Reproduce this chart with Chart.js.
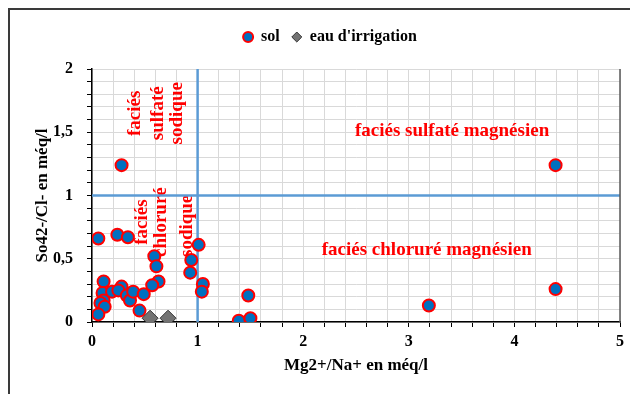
<!DOCTYPE html>
<html><head><meta charset="utf-8">
<script src="https://cdn.jsdelivr.net/npm/chart.js@4/dist/chart.umd.min.js"></script>
<style>
html,body{margin:0;padding:0;background:#fff;}
#wrap{position:relative;width:630px;height:394px;overflow:hidden;}
#frame{position:absolute;left:8px;top:8px;width:640px;height:400px;border-left:2px solid #3a3a3a;border-top:2px solid #3a3a3a;}
canvas{position:absolute;left:0;top:0;}
</style></head>
<body><div id="wrap"><div id="frame"></div><canvas id="c" width="630" height="394"></canvas></div>
<script>
// --- data ---
const solX = [0.06,0.28,0.24,0.34,0.59,0.61,0.63,0.57,1.01,0.94,0.93,1.05,1.04,0.11,0.10,0.11,0.08,0.12,0.06,0.19,0.28,0.25,0.33,0.36,0.39,0.49,0.45,4.39,4.39,3.19,1.48,1.39,1.50];
const solY = [0.66,1.24,0.69,0.67,0.52,0.44,0.32,0.29,0.61,0.49,0.39,0.30,0.24,0.32,0.23,0.17,0.15,0.12,0.06,0.24,0.28,0.25,0.21,0.17,0.24,0.22,0.09,1.24,0.26,0.13,0.21,0.01,0.03];
const eauX = [0.55,0.72];
const eauY = [0.03,0.03];
const seriesNames = ['sol',"eau d'irrigation"];
const xTickLabels = ['0','1','2','3','4','5'];
const yTickLabels = ['0','0,5','1','1,5','2'];
const refX = 1;   // vertical limit Mg2+/Na+ = 1
const refY = 1;   // horizontal limit So42-/Cl- = 1
const noteTexts = ['faciés sulfaté magnésien','faciés chloruré magnésien','faciés','sulfaté','sodique','faciés','chloruré','sodique'];

// --- layout of annotations (data-unit anchors) ---
const notePos = [
  {x:3.41,y:1.51,r:0},{x:3.17,y:0.57,r:0},
  {x:0.41,y:1.65,r:1},{x:0.63,y:1.65,r:1},{x:0.81,y:1.65,r:1},
  {x:0.47,y:0.79,r:1},{x:0.65,y:0.79,r:1},{x:0.90,y:0.76,r:1}
];

const toPts = (xs,ys)=>xs.map((v,i)=>({x:v,y:ys[i]}));
const SERIF = '"Liberation Serif","Times New Roman",serif';

const notesPlugin = {
  id:'notes',
  beforeDatasetsDraw(chart){
    const {ctx} = chart, sx = chart.scales.x, sy = chart.scales.y;
    ctx.save();
    ctx.fillStyle = '#FF0000';
    ctx.font = 'bold 19px ' + SERIF;
    ctx.textAlign = 'center';
    ctx.textBaseline = 'middle';
    noteTexts.forEach((t,i)=>{
      const p = notePos[i];
      ctx.save();
      ctx.translate(sx.getPixelForValue(p.x), sy.getPixelForValue(p.y));
      if (p.r) ctx.rotate(-Math.PI/2);
      ctx.fillText(t,0,0);
      ctx.restore();
    });
    ctx.restore();
  },
  afterDraw(chart){
    const {ctx, chartArea:a} = chart;
    ctx.save();
    ctx.strokeStyle = '#595959';
    ctx.lineWidth = 1.5;
    ctx.beginPath();
    ctx.moveTo(a.right, a.top); ctx.lineTo(a.right, a.bottom);
    ctx.stroke();
    ctx.restore();
  }
};
const legendMargin = {
  id:'legendMargin',
  beforeInit(chart){
    const lg = chart.legend;
    const origFit = lg.fit;
    lg.fit = function(){ origFit.bind(lg)(); this.height += 14; };
    const origDraw = lg.draw;
    lg.draw = function(){ const c = chart.ctx; c.save(); c.translate(20,0); origDraw.bind(lg)(); c.restore(); };
  }
};

new Chart(document.getElementById('c'), {
  type:'scatter',
  data:{datasets:[
    {label:seriesNames[0], data:toPts(solX,solY), pointStyle:'circle', pointRadius:6, pointHoverRadius:6,
     backgroundColor:'#0070C0', borderColor:'#FF0000', borderWidth:2, order:1},
    {label:seriesNames[1], data:toPts(eauX,eauY), pointStyle:'rectRot', pointRadius:8, pointHoverRadius:8,
     backgroundColor:'#737373', borderColor:'#333333', borderWidth:1, order:0},
    {label:'vline', data:[{x:refX,y:0},{x:refX,y:2}], showLine:true, borderColor:'#5B9BD5', borderWidth:2.5, pointRadius:0, order:5},
    {label:'hline', data:[{x:0,y:refY},{x:5,y:refY}], showLine:true, borderColor:'#5B9BD5', borderWidth:2.5, pointRadius:0, order:5}
  ]},
  options:{
    responsive:false, animation:false, devicePixelRatio:1,
    layout:{padding:{top:17,right:10,bottom:0,left:0}},
    plugins:{
      legend:{position:'top',
        labels:{usePointStyle:true, pointStyleWidth:10, boxHeight:7.07, padding:12, color:'#000',
          font:{family:SERIF, size:16, weight:'bold'},
          filter:(item)=>item.datasetIndex<2,
          sort:(a,b)=>a.datasetIndex-b.datasetIndex}},
      tooltip:{enabled:false}
    },
    scales:{
      x:{type:'linear', min:0, max:5,
        afterFit:(s)=>{s.height=72;},
        ticks:{stepSize:0.2, maxTicksLimit:100, autoSkip:false, maxRotation:0, color:'#000', padding:5,
          font:{family:SERIF,size:16,weight:'bold'},
          callback:(v)=>{const r=Math.round(v*5); return r%5===0 ? xTickLabels[r/5] : '';}},
        grid:{color:'#D9D9D9', tickColor:'#000', tickLength:5, lineWidth:1},
        border:{color:'#000', width:1.5},
        title:{display:true, text:'Mg2+/Na+ en méq/l', color:'#000',
          font:{family:SERIF,size:17,weight:'bold'}, padding:{top:4,bottom:18}}
      },
      y:{type:'linear', min:0, max:2,
        afterFit:(s)=>{s.width=92;},
        ticks:{stepSize:0.1, maxTicksLimit:100, autoSkip:false, color:'#000', padding:14,
          font:{family:SERIF,size:16,weight:'bold'},
          callback:(v)=>{const r=Math.round(v*10); return r%5===0 ? yTickLabels[r/5] : '';}},
        grid:{color:'#D9D9D9', tickColor:'#000', tickLength:5, lineWidth:1},
        border:{color:'#000', width:1.5},
        title:{display:true, text:'So42-/Cl- en méq/l', color:'#000',
          font:{family:SERIF,size:17,weight:'bold'}, padding:{top:32,bottom:0}}
      }
    }
  },
  plugins:[notesPlugin, legendMargin]
});
</script>
</body></html>
